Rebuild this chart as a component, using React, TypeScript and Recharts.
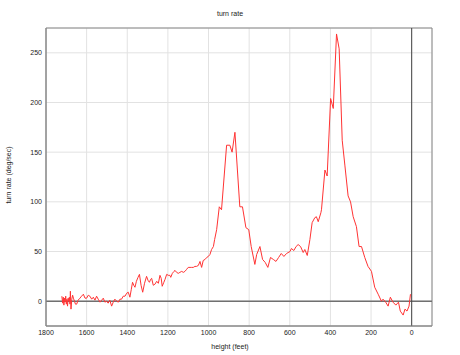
import React from "react";
import { LineChart, Line, XAxis, YAxis, CartesianGrid, ReferenceLine, ReferenceArea } from "recharts";

const heights: number[] = [
  1722, 1718, 1715, 1712, 1709, 1706, 1703, 1700, 1697, 1694, 1691, 1688, 1685, 1682, 1680, 1677, 1673, 1669, 1665, 1660,
  1655, 1649, 1642, 1633, 1625, 1616, 1608, 1600, 1592, 1584, 1575, 1567, 1559, 1551, 1543, 1534, 1526, 1518, 1510, 1502,
  1494, 1486, 1477, 1469, 1461, 1452, 1444, 1436, 1428, 1420, 1411, 1403, 1395, 1387, 1380, 1374, 1368, 1362, 1355, 1347,
  1340, 1332, 1324, 1315, 1305, 1298, 1291, 1285, 1280, 1272, 1264, 1255, 1247, 1239, 1233, 1228, 1220, 1214, 1206, 1198,
  1190, 1186, 1178, 1170, 1165, 1157, 1149, 1141, 1132, 1124, 1116, 1108, 1100, 1091, 1083, 1075, 1067, 1059, 1050, 1042,
  1034, 1026, 1017, 1009, 1001, 993, 985, 976, 970, 960, 947, 936, 911, 895, 884, 870, 846, 833, 816, 802,
  790, 772, 763, 747, 734, 721, 708, 695, 681, 668, 655, 642, 629, 616, 599, 592, 580, 569, 559, 547,
  534, 526, 514, 501, 490, 477, 469, 460, 447, 444, 427, 416, 399, 386, 370, 357, 342, 329, 313, 301,
  288, 272, 259, 247, 231, 215, 198, 182, 165, 149, 141, 128, 116, 105, 92, 78, 65, 56, 42, 33,
  23, 13, 6
];

const turnRates: number[] = [
  5, -2, 4, -4, 3, -1, 5, -3, 2, -5, 3, 0, 4, -3, 10, -8, 2, 6, 3, 0,
  -3, -3, 1, 3, 5, 7, 3, 3, 6, 5, 2, 4, 1, 5, 2, -1, 1, 3, -1, 0,
  -2, 1, -5, -1, 2, 0, -1, 2, 2, 5, 5, 8, 9, 4, 12, 19, 16, 14, 20, 24,
  27, 16, 9, 18, 25, 21, 19, 22, 23, 16, 17, 20, 18, 26, 23, 15, 19, 22, 27, 26,
  26, 24, 28, 30, 31, 29, 28, 29, 30, 29, 30, 32, 34, 34, 34, 34, 35, 35, 36, 40,
  34, 41, 42, 44, 45, 47, 52, 55, 62, 72, 95, 92, 157, 157, 150, 170, 95, 95, 74, 72,
  55, 37, 47, 55, 42, 39, 34, 44, 42, 40, 44, 48, 45, 48, 50, 53, 51, 55, 57, 55,
  49, 52, 46, 62, 79, 84, 85, 80, 89, 92, 132, 126, 204, 194, 269, 254, 162, 137, 106, 100,
  85, 75, 55, 55, 44, 35, 30, 14, 7, 0, 2, -1, -5, 4, -1, -4, -1, -10, -14, -8,
  -10, -5, 7
];

const xTicks: number[] = [0, 200, 400, 600, 800, 1000, 1200, 1400, 1600, 1800];
const yTicks: number[] = [0, 50, 100, 150, 200, 250];

const data = heights.map((h, i) => ({ h, v: turnRates[i] }));

const font = "'Liberation Sans', Arial, sans-serif";

export default function App() {
  return (
    <div style={{ position: "absolute", left: 0, top: 0, width: 460, height: 355, background: "#fff" }}>
      <LineChart width={460} height={355} data={data} margin={{ top: 28, right: 28, left: 0, bottom: 0 }}>
        <CartesianGrid stroke="#e2e2e2" strokeWidth={1} horizontal vertical />
        <XAxis
          dataKey="h"
          type="number"
          domain={[-100, 1800]}
          reversed
          ticks={xTicks}
          allowDataOverflow
          height={29}
          tickSize={0}
          tickMargin={4}
          axisLine={{ stroke: "#888" }}
          tick={{ fontSize: 7, fill: "#222", fontFamily: font }}
        />
        <YAxis
          dataKey="v"
          type="number"
          domain={[-25, 275]}
          ticks={yTicks}
          allowDataOverflow
          width={46}
          tickSize={0}
          tickMargin={4}
          axisLine={{ stroke: "#888" }}
          tick={{ fontSize: 7, fill: "#222", fontFamily: font }}
        />
        <ReferenceArea x1={1800} x2={-100} y1={-25} y2={275} fill="none" stroke="#888" strokeWidth={1} ifOverflow="visible" />
        <ReferenceLine y={0} stroke="#707070" strokeWidth={1.5} />
        <ReferenceLine x={0} stroke="#444" strokeWidth={1} />
        <Line type="linear" dataKey="v" stroke="#ff3333" strokeWidth={1} dot={false} isAnimationActive={false} />
      </LineChart>
      <svg width={460} height={355} style={{ position: "absolute", left: 0, top: 0, pointerEvents: "none" }}>
        <text x={230} y={15.5} textAnchor="middle" fontSize={7} fill="#222" fontFamily={font}>
          turn rate
        </text>
        <text
          x={10.5}
          y={175}
          textAnchor="middle"
          fontSize={7}
          fill="#222"
          fontFamily={font}
          transform="rotate(-90 10.5 175)"
        >
          turn rate (deg/sec)
        </text>
        <text x={230} y={349} textAnchor="middle" fontSize={7} fill="#222" fontFamily={font}>
          height (feet)
        </text>
      </svg>
    </div>
  );
}
